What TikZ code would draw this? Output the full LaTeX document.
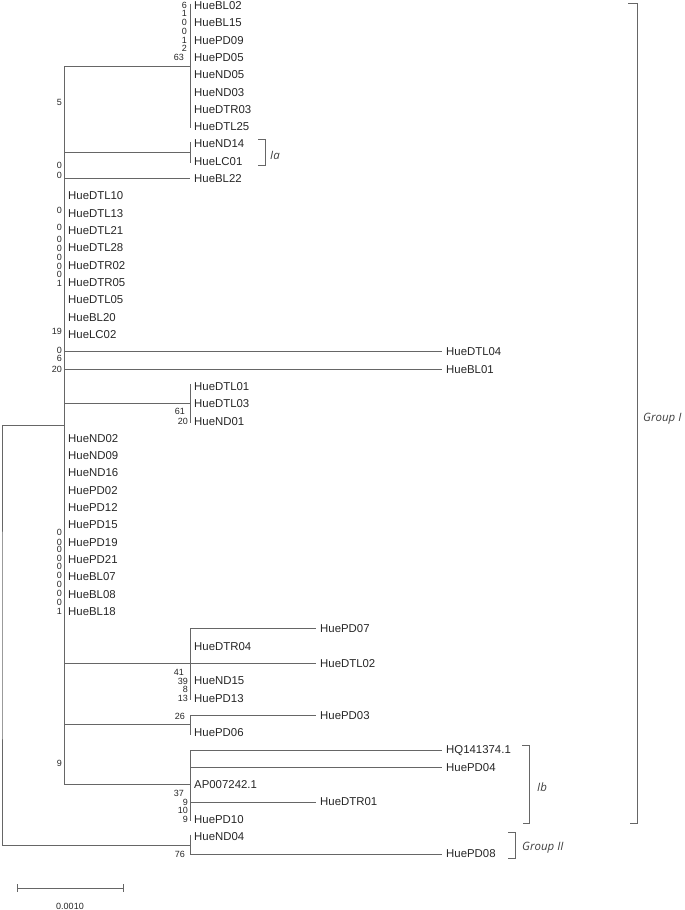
\documentclass[tikz,border=0pt]{standalone}
\usepackage{fontspec}
\setmainfont{Liberation Sans}
\newfontfamily\grpfont{Open Sans}

\begin{document}
\begin{tikzpicture}[x=1pt,y=-1pt,
  br/.style={draw=black!60,line width=0.8pt},
  tip/.style={anchor=west,inner xsep=4pt,inner ysep=0pt,text=black!85,font=\fontsize{11.4}{12}\selectfont},
  boot/.style={anchor=east,inner sep=0pt,text=black!85,font=\fontsize{9}{9}\selectfont},
  grp/.style={anchor=west,inner sep=0pt,text=black!75,font=\grpfont\itshape\fontsize{11.5}{12}\selectfont}]
\useasboundingbox (0,0) rectangle (685,910);
\foreach \name/\xx [count=\i] in {HueBL02/190,HueBL15/190,HuePD09/190,HuePD05/190,HueND05/190,
  HueND03/190,HueDTR03/190,HueDTL25/190,HueND14/190,HueLC01/190,HueBL22/190,
  HueDTL10/64,HueDTL13/64,HueDTL21/64,HueDTL28/64,HueDTR02/64,HueDTR05/64,HueDTL05/64,
  HueBL20/64,HueLC02/64,HueDTL04/442,HueBL01/442,HueDTL01/190,HueDTL03/190,HueND01/190,
  HueND02/64,HueND09/64,HueND16/64,HuePD02/64,HuePD12/64,HuePD15/64,HuePD19/64,HuePD21/64,
  HueBL07/64,HueBL08/64,HueBL18/64,HuePD07/316,HueDTR04/190,HueDTL02/316,HueND15/190,
  HuePD13/190,HuePD03/316,HuePD06/190,HQ141374.1/442,HuePD04/442,AP007242.1/190,
  HueDTR01/316,HuePD10/190,HueND04/190,HuePD08/442}
  \node[tip] (t\i) at (\xx,{5.5+17.316*(\i-1)}) {\name};

\coordinate (ca) at (190,66.1);
\coordinate (cb) at (190,152.7);
\coordinate (cc) at (190,403.8);
\coordinate (cd) at (190,663.5);
\coordinate (ce) at (190,724.1);
\coordinate (cf) at (190,784.7);
\coordinate (gI) at (64,425.4);
\coordinate (gII) at (190,845.3);
\coordinate (root) at (2,635.4);

\draw[br] (gI) -| (root) |- (gII);
\draw[br] (ca -| gI) -- (cf -| gI);
\draw[br] (ca -| gI) -- (ca);
\draw[br] (cb -| gI) -- (cb);
\draw[br] (t11.west -| gI) -- (t11.west);
\draw[br] (t21.west -| gI) -- (t21.west);
\draw[br] (t22.west -| gI) -- (t22.west);
\draw[br] (cc -| gI) -- (cc);
\draw[br] (t39.west -| gI) -- (t39.west);
\draw[br] (ce -| gI) -- (ce);
\draw[br] (cf -| gI) -- (cf);

\draw[br] ([yshift=2pt]t1.west) -- ([yshift=-1pt]t8.west);
\draw[br] ([yshift=2pt]t9.west) -- ([yshift=-2pt]t10.west);
\draw[br] ([yshift=2pt]t23.west) -- ([yshift=-2pt]t25.west);
\draw[br] (t37.west -| cd) -- ([yshift=-2pt]t41.west);
\draw[br] (t42.west -| ce) -- ([yshift=-2pt]t43.west);
\draw[br] (t44.west -| cf) -- ([yshift=-2pt]t48.west);
\draw[br] ([yshift=2pt]t49.west) -- (t50.west -| gII);

\draw[br] (t37.west -| cd) -- (t37.west);
\draw[br] (t42.west -| ce) -- (t42.west);
\draw[br] (t44.west -| cf) -- (t44.west);
\draw[br] (t45.west -| cf) -- (t45.west);
\draw[br] (t47.west -| cf) -- (t47.west);
\draw[br] (t50.west -| gII) -- (t50.west);

\foreach \xx/\yy/\v [count=\j] in {187/5/6,187/13.5/1,187/22.5/0,187/31.5/0,187/40/1,187/48.5/2,184/57.5/63,
  62/102/5,62/165/0,62/175/0,62/210/0,62/227/0,62/239/0,62/248/0,62/257/0,62/266/0,62/274/0,62/283/1,
  62/331/19,62/350/0,62/358/6,62/369/20,185/411/61,188/421/20,
  62/532/0,62/542/0,62/549.5/0,62/558/0,62/566.5/0,62/575/0,62/584/0,62/593/0,62/602/0,62/611.5/1,
  184/672/41,188/681/39,188/689.5/8,188/698/13,185/716/26,62/763/9,
  184/793/37,188/802/9,188/810.5/10,188/819.5/9,185/854/76}
  \node[boot] (b\j) at (\xx,\yy) {\v};

\draw[br] (258,139) -- (265,139) -- (265,165) -- (258,165);
\node[grp] (la) at (270,155) {Ia};
\draw[br] (628,3) -- (637,3) -- (637,823) -- (630,823);
\node[grp] (gIlab) at (643,419) {Group I};
\draw[br] (522,745) -- (529,745) -- (529,823) -- (523,823);
\node[grp] (lb) at (537,787) {Ib};
\draw[br] (508,832) -- (515,832) -- (515,858) -- (508,858);
\node[grp] (gIIlab) at (522,848) {Group II};

\draw[br] (17,884) -- (17,892) (17,888) -- (123,888) (123,884) -- (123,892);
\node[boot,anchor=center] (scl) at (70,906) {0.0010};
\end{tikzpicture}
\end{document}
